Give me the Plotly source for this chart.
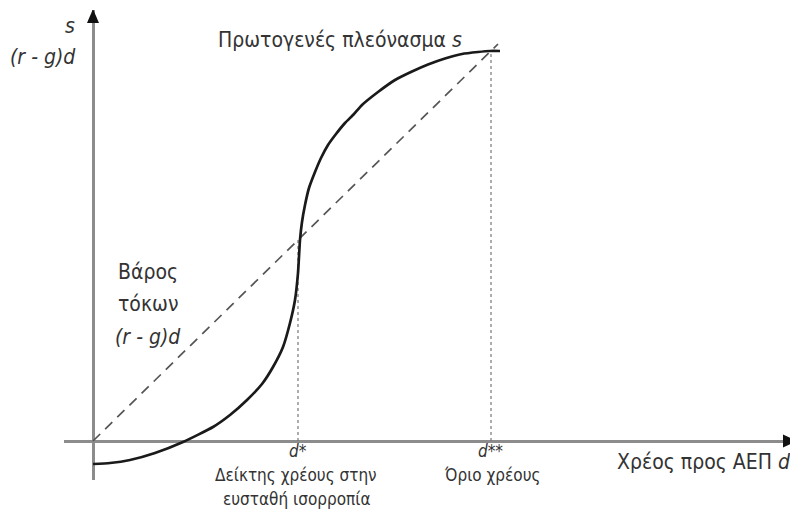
import plotly.graph_objects as go

# ---- data (units: 1 unit = 100 px in the reference) ----
# primary surplus curve s(d)
curve_d = [0.00, 0.17, 0.37, 0.62, 0.90, 1.20, 1.37, 1.54, 1.69, 1.80, 1.90, 1.97, 2.02, 2.05, 2.07,
           2.09, 2.12, 2.16, 2.22, 2.28, 2.35, 2.43, 2.52, 2.61, 2.69, 2.85, 3.02, 3.19, 3.35,
           3.52, 3.69, 3.85, 3.97, 4.07]
curve_s = [-0.23, -0.22, -0.19, -0.12, -0.01, 0.14, 0.26, 0.41, 0.57, 0.74, 0.94, 1.18, 1.41, 1.68, 2.01,
           2.19, 2.36, 2.53, 2.69, 2.83, 2.96, 3.07, 3.18, 3.27, 3.36, 3.49, 3.61, 3.695, 3.765,
           3.825, 3.87, 3.89, 3.90, 3.90]
# interest burden line (r-g)d
line_d = [0.00, 4.05]
line_s = [0.00, 3.97]
# equilibrium points
D_STAR, S_STAR = 2.05, 2.04
D_2STAR, S_2STAR = 3.98, 3.90

# axis extents
X_MIN, X_MAX = -0.29, 7.04
Y_MIN, Y_MAX = -0.39, 4.31

FONT = "Liberation Sans Narrow, DejaVu Sans Condensed, Roboto, sans-serif"
TXT = "#333333"
AX = "#8c8c8c"

fig = go.Figure()

fig.add_trace(go.Scatter(x=[D_STAR, D_STAR], y=[0, S_STAR], mode="lines",
                         line=dict(color="#777777", width=1.2, dash="dot"), hoverinfo="skip"))
fig.add_trace(go.Scatter(x=[D_2STAR, D_2STAR], y=[0, S_2STAR], mode="lines",
                         line=dict(color="#777777", width=1.2, dash="dot"), hoverinfo="skip"))
fig.add_trace(go.Scatter(x=line_d, y=line_s, mode="lines",
                         line=dict(color="#555555", width=1.7, dash="10px,7px"), hoverinfo="skip"))
fig.add_trace(go.Scatter(x=curve_d, y=curve_s, mode="lines", line_shape="spline",
                         line=dict(color="#1a1a1a", width=2.7, smoothing=0.5), hoverinfo="skip"))

# arrow heads (data units = 1/100 px)
fig.add_shape(type="path", xref="x", yref="y",
              path=f"M {-0.06} {Y_MAX-0.13} L {0.06} {Y_MAX-0.13} L 0 {Y_MAX+0.01} Z",
              fillcolor="#111111", line=dict(width=0))
fig.add_shape(type="path", xref="x", yref="y",
              path=f"M {X_MAX-0.14} {-0.065} L {X_MAX-0.14} {0.065} L {X_MAX} 0 Z",
              fillcolor="#111111", line=dict(width=0))

def ann(x, y, text, size, xanchor="center"):
    # y given in data units; placed via paper fraction so labels below the axis range still show
    fig.add_annotation(x=x, y=(y - Y_MIN) / (Y_MAX - Y_MIN), xref="x", yref="paper",
                       text=text, showarrow=False, xanchor=xanchor, yanchor="middle",
                       font=dict(family=FONT, size=size, color=TXT))

ann(2.47, 4.01, "Πρωτογενές πλεόνασμα <i>s</i>", 21)
ann(-0.16, 4.15, "<i>s</i>", 21, "right")
ann(-0.155, 3.84, "<i>(r - g)d</i>", 21, "right")
ann(0.55, 1.69, "Βάρος", 21)
ann(0.55, 1.37, "τόκων", 21)
ann(0.55, 1.04, "<i>(r - g)d</i>", 21)
ann(D_STAR, -0.10, "<i>d*</i>", 17)
ann(D_STAR - 0.02, -0.34, "Δείκτης χρέους στην", 17)
ann(D_STAR - 0.02, -0.58, "ευσταθή ισορροπία", 17)
ann(D_2STAR - 0.01, -0.10, "<i>d**</i>", 17)
ann(D_2STAR + 0.01, -0.34, "Όριο χρέους", 17)
ann(7.00, -0.21, "Χρέος προς ΑΕΠ <i>d</i>", 21, "right")

axis_common = dict(showgrid=False, showticklabels=False, ticks="", showline=False,
                   zeroline=True, zerolinecolor=AX, zerolinewidth=3, fixedrange=True)
# the page body adds an 8px margin, so the figure is 8px smaller than the window
fig.update_layout(
    width=790, height=504,
    margin=dict(l=56, r=1, t=2, b=32),
    paper_bgcolor="white", plot_bgcolor="white",
    showlegend=False,
    xaxis=dict(range=[X_MIN, X_MAX], **axis_common),
    yaxis=dict(range=[Y_MIN, Y_MAX], **axis_common),
)
fig.write_html("out.html")
